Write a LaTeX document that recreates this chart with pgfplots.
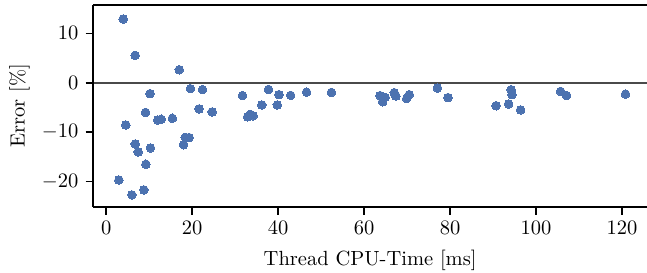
\documentclass[border=0pt]{standalone}
\usepackage{pgfplots}
\pgfplotsset{compat=1.18}
\definecolor{sbblue}{HTML}{4C72B0}
\definecolor{zeroline}{HTML}{4A4A4A}
\begin{document}
\begin{tikzpicture}
\begin{axis}[
  name=ax,
  scale only axis,
  width=270pt, height=98.5pt,
  xmin=-3, xmax=125.8, ymin=-25.1, ymax=15.8,
  axis line style={draw=none},
  tick align=outside,
  xtick pos=bottom, ytick pos=left,
  xtick={0,20,40,60,80,100,120},
  ytick={-20,-10,0,10},
  major tick length=3.8pt,
  tick style={black, line width=0.8pt},
  xlabel={Thread CPU-Time [ms]},
  ylabel={Error [\%]},
  xlabel style={yshift=-0.5pt},
  ylabel style={yshift=-1pt},
  clip=false,
]
\addplot[zeroline, line width=0.8pt, forget plot] coordinates {(-3,0) (125.8,0)};
\addplot[sbblue, only marks, mark=*, mark size=2.1pt, mark options={draw=sbblue, fill=sbblue, line width=0pt}] coordinates {
(3.95,12.9) (6.74,5.54) (17.0,2.64) (10.2,-2.2) (19.6,-1.2) (22.4,-1.4)
(9.15,-6.0) (21.6,-5.3) (24.65,-5.9) (4.57,-8.56) (12.0,-7.55) (12.8,-7.4)
(15.4,-7.2) (6.74,-12.4) (7.44,-14.0) (10.3,-13.2) (18.4,-11.05) (19.3,-11.1)
(18.0,-12.55) (9.23,-16.5) (2.95,-19.7) (8.76,-21.7) (5.97,-22.7)
(31.7,-2.6) (37.75,-1.35) (40.2,-2.4) (42.9,-2.55) (46.6,-1.9) (52.4,-1.95)
(36.2,-4.5) (39.8,-4.5) (32.9,-6.9) (33.5,-6.4) (34.2,-6.7)
(63.7,-2.6) (64.5,-3.3) (64.9,-2.96) (64.3,-3.85)
(67.0,-2.0) (67.4,-2.7) (67.1,-2.35) (69.9,-3.2) (70.5,-2.4)
(77.05,-1.07) (79.5,-3.0) (90.7,-4.65) (93.6,-4.3) (96.4,-5.5)
(94.2,-1.4) (94.4,-2.4) (105.7,-1.75) (107.1,-2.6) (120.8,-2.3)
};
\draw[black, line width=0.8pt] (rel axis cs:0,1) -- (rel axis cs:1,1);
\draw[black, line width=0.8pt] (rel axis cs:0,0) -- (rel axis cs:1,0);
\draw[black, line width=0.8pt] (rel axis cs:0,0) -- (rel axis cs:0,1);
\end{axis}
\pgfresetboundingbox
\path ([xshift=-45.5pt,yshift=-32.3pt]ax.south west) rectangle ([yshift=2.3pt]ax.north east);
\end{tikzpicture}
\end{document}
